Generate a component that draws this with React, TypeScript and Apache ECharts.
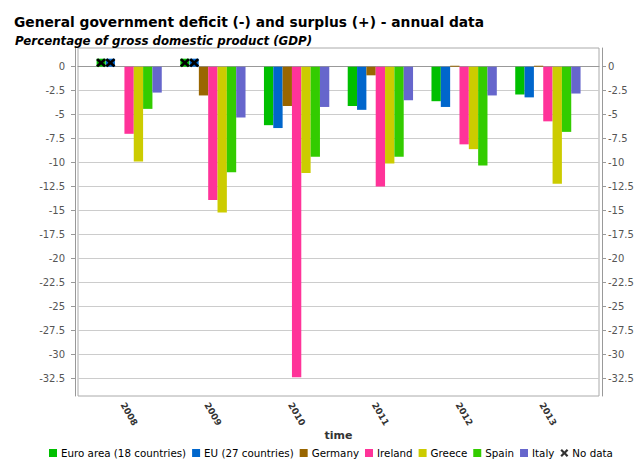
import React, { useEffect, useRef } from "react";
import * as echarts from "echarts";

const years = [2008, 2009, 2010, 2011, 2012, 2013];
const euroArea = [null, null, -6.1, -4.1, -3.6, -2.9];
const eu27 = [null, null, -6.4, -4.5, -4.2, -3.2];
const germany = [0, -3.0, -4.1, -0.9, 0.1, 0.1];
const ireland = [-7.0, -13.9, -32.4, -12.5, -8.1, -5.7];
const greece = [-9.9, -15.2, -11.1, -10.1, -8.6, -12.2];
const spain = [-4.4, -11.0, -9.4, -9.4, -10.3, -6.8];
const italy = [-2.7, -5.3, -4.2, -3.5, -3.0, -2.8];
const yTicks = [0, -2.5, -5, -7.5, -10, -12.5, -15, -17.5, -20, -22.5, -25, -27.5, -30, -32.5];

const seriesDefs = [
  { name: "Euro area (18 countries)", values: euroArea, color: "#00bf00" },
  { name: "EU (27 countries)", values: eu27, color: "#0066cc" },
  { name: "Germany", values: germany, color: "#996600" },
  { name: "Ireland", values: ireland, color: "#ff3399" },
  { name: "Greece", values: greece, color: "#cccc00" },
  { name: "Spain", values: spain, color: "#33cc00" },
  { name: "Italy", values: italy, color: "#6666cc" },
];

const X_PATH =
  "path://M0,2 L2,0 L5,3 L8,0 L10,2 L7,5 L10,8 L8,10 L5,7 L2,10 L0,8 L3,5 Z";
const FONT = "DejaVu Sans";

export default function App() {
  const ref = useRef<HTMLDivElement>(null);
  useEffect(() => {
    if (!ref.current) return;
    const chart = echarts.init(ref.current, null, { renderer: "svg" });
    const series: any[] = seriesDefs.map((s) => {
      const noData = years.filter((_, i) => s.values[i] === null);
      return {
        type: "bar",
        name: s.name,
        yAxisIndex: 0,
        barGap: "0%",
        barCategoryGap: "22%",
        itemStyle: { color: s.color },
        data: years.map((y, i) => [y, s.values[i]]),
        markPoint: noData.length
          ? {
              silent: true,
              label: { show: false },
              data: noData.flatMap((y) => [
                {
                  coord: [y, 0],
                  symbol: "rect",
                  symbolSize: [9, 8],
                  symbolOffset: [0, -4],
                  itemStyle: { color: s.color },
                },
                {
                  coord: [y, 0],
                  symbol: X_PATH,
                  symbolSize: [10, 9],
                  symbolOffset: [0, -4],
                  itemStyle: { color: "#000" },
                },
              ]),
            }
          : undefined,
      };
    });
    series.push({
      type: "scatter",
      name: "No data",
      symbol: X_PATH,
      itemStyle: { color: "#000" },
      data: [],
    });

    const yAxisCommon = {
      type: "value",
      min: -34.35,
      max: 1.95,
      offset: 3,
      axisLine: { show: true, lineStyle: { color: "#999" } },
      axisTick: { show: true, length: 4, customValues: yTicks, lineStyle: { color: "#999" } },
    };

    chart.setOption({
      animation: false,
      textStyle: { fontFamily: FONT },
      title: [
        {
          text: "General government deficit (-) and surplus (+) - annual data",
          left: 9,
          top: 10,
          textStyle: { fontFamily: FONT, fontSize: 13.8, fontWeight: "bold", color: "#000" },
        },
        {
          text: "Percentage of gross domestic product (GDP)",
          left: 10,
          top: 30,
          textStyle: {
            fontFamily: FONT,
            fontSize: 11.8,
            fontWeight: "bold",
            fontStyle: "italic",
            color: "#000",
          },
        },
      ],
      legend: {
        left: 44,
        top: 443,
        itemWidth: 8,
        itemHeight: 8,
        itemGap: 6,
        icon: "rect",
        textStyle: { fontFamily: FONT, fontSize: 10.3, color: "#000", padding: [0, 0, 0, -1] },
        data: [
          ...seriesDefs.map((s) => ({ name: s.name, icon: "rect" })),
          { name: "No data", icon: X_PATH },
        ],
      },
      grid: {
        left: 78,
        right: 40,
        top: 48,
        bottom: 63,
        show: true,
        borderColor: "#aaa",
        borderWidth: 1,
      },
      xAxis: {
        type: "value",
        min: 2007.39,
        max: 2013.61,
        offset: 3,
        name: "time",
        nameLocation: "middle",
        nameGap: 31,
        nameMoveOverlap: false,
        nameTextStyle: { fontFamily: FONT, fontSize: 11, fontWeight: "bold", color: "#333" },
        splitLine: { show: false },
        axisLine: { show: true, lineStyle: { color: "#999" } },
        axisTick: { show: true, length: 3, customValues: years, lineStyle: { color: "#999" } },
        axisLabel: {
          customValues: years,
          formatter: (v: number) => String(v),
          rotate: -60,
          align: "center",
          verticalAlign: "middle",
          margin: 15,
          fontFamily: FONT,
          fontSize: 9,
          fontWeight: "bold",
          color: "#333",
        },
      },
      yAxis: [
        {
          ...yAxisCommon,
          position: "left",
          splitLine: { show: true, lineStyle: { color: "#ccc", width: 1 } },
          axisLabel: {
            customValues: yTicks,
            margin: 10,
            fontFamily: FONT,
            fontSize: 10,
            color: "#555",
            formatter: (v: number) => String(v),
          },
        },
        {
          ...yAxisCommon,
          position: "right",
          splitLine: { show: false },
          axisLabel: {
            customValues: yTicks,
            margin: 6,
            fontFamily: FONT,
            fontSize: 10,
            color: "#555",
            formatter: (v: number) => String(v),
          },
        },
      ],
      series,
    });
    return () => chart.dispose();
  }, []);
  return <div ref={ref} style={{ width: 639, height: 459, position: "absolute", left: 0, top: 0 }} />;
}
